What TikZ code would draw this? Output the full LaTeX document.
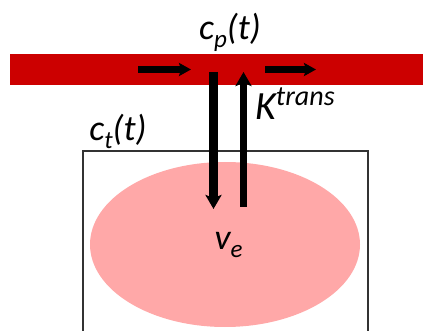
\documentclass[tikz,border=0pt]{standalone}
\usepackage{fontspec}
\setmainfont{Carlito}
\usetikzlibrary{arrows.meta}
\definecolor{barred}{HTML}{CC0000}
\definecolor{cellpink}{HTML}{FFA8A8}
\definecolor{boxgray}{HTML}{333333}
\newcommand{\subsz}{\fontsize{25}{29}\selectfont}
\tikzset{
  lbl/.style={font=\fontsize{36}{42}\selectfont\itshape, inner sep=0pt, anchor=base},
  flow/.style={line width=7pt, -{Stealth[length=14pt,width=16pt,inset=3pt]}},
  hflow/.style={line width=7pt, -{Stealth[length=12pt,width=13pt,inset=2pt]}}
}
\begin{document}
\begin{tikzpicture}[x=1pt,y=-1pt]
\useasboundingbox (0,0) rectangle (423,331);
% tissue box
\draw[boxgray, line width=1.4pt] (83,340) -- (83,151) -- (368,151) -- (368,340);
% EES ellipse
\fill[cellpink] (225,244.5) ellipse [x radius=135, y radius=82.5];
% plasma bar
\fill[barred] (10,54) rectangle (423,85);
% coordinates
\coordinate (h1s) at (138,69.5);
\coordinate (h1e) at (191,69.5);
\coordinate (h2s) at (265,69.5);
\coordinate (h2e) at (316,69.5);
\coordinate (ds) at (213.5,72);
\coordinate (de) at (213.5,209);
\coordinate (us) at (243.5,207);
\coordinate (ue) at (243.5,72);
\draw[hflow] (h1s) -- (h1e);
\draw[hflow] (h2s) -- (h2e);
\draw[flow, line width=9pt] (ds) -- (de);
\draw[flow] (us) -- (ue);
% labels
\node[lbl] (cp) at (230,40) {c\raisebox{-0.2em}{\subsz p}(t)};
\node[lbl] (ct) at (118,141) {c\raisebox{-0.2em}{\subsz t}(t)};
\node[lbl, anchor=base west, font=\fontsize{40}{46}\selectfont\itshape] (k) at (255,120) {K\raisebox{0.36em}{\fontsize{28}{32}\selectfont trans}};
\node[lbl] (ve) at (228.5,250) {v\raisebox{-0.2em}{\subsz e}};
\end{tikzpicture}
\end{document}
